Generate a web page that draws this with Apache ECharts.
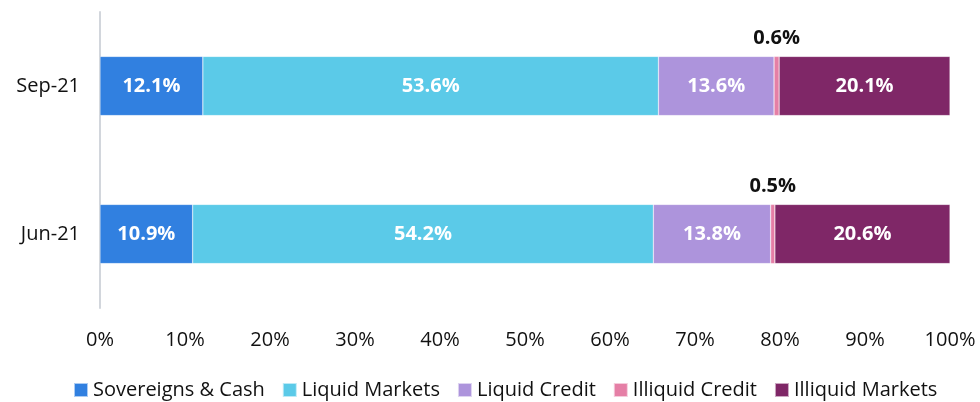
<!DOCTYPE html>
<html>
<head>
<meta charset="utf-8">
<script src="https://cdn.jsdelivr.net/npm/echarts@6/dist/echarts.min.js"></script>
<style>
  html, body { margin: 0; padding: 0; background: #fff; }
  #chart { width: 980px; height: 402px; }
</style>
</head>
<body>
<div id="chart"></div>
<script>
// bottom to top
var periods = ['Jun-21', 'Sep-21'];
var sovereignsCash = [10.9, 12.1];
var liquidMarkets = [54.2, 53.6];
var liquidCredit = [13.8, 13.6];
var illiquidCredit = [0.5, 0.6];
var illiquidMarkets = [20.6, 20.1];

var font = '"Open Sans", "Noto Sans", sans-serif';
var fs = 20;

var inside = {
  show: true,
  position: 'inside',
  color: '#fff',
  fontFamily: font,
  fontWeight: 'bold',
  fontSize: fs,
  formatter: p => p.value.toFixed(1) + '%'
};

var mk = (name, data, color, label) => ({
  name: name,
  type: 'bar',
  stack: 'total',
  barWidth: '40%',
  data: data,
  itemStyle: { color: color, borderColor: 'rgba(255,255,255,0.6)', borderWidth: 0.5 },
  label: label || inside
});

var chart = echarts.init(document.getElementById('chart'));
var option = {
  animation: false,
  textStyle: { fontFamily: font },
  grid: { left: 100, right: 30, top: 12, bottom: 94 },
  legend: {
    top: 375,
    left: 68,
    padding: 5,
    itemWidth: 14,
    itemHeight: 14,
    itemGap: 17,
    icon: 'rect',
    textStyle: { fontSize: fs, color: '#111', fontFamily: font },
    data: ['Sovereigns & Cash', 'Liquid Markets', 'Liquid Credit', 'Illiquid Credit', 'Illiquid Markets']
  },
  xAxis: {
    type: 'value',
    min: 0,
    max: 100,
    interval: 10,
    axisLine: { show: false },
    axisTick: { show: false },
    splitLine: { show: false },
    axisLabel: { fontSize: fs, color: '#111', margin: 22, formatter: '{value}%' }
  },
  yAxis: {
    type: 'category',
    data: periods,
    axisLine: { show: true, lineStyle: { color: '#d2d6dc', width: 2 } },
    axisTick: { show: false },
    axisLabel: { fontSize: fs, color: '#111', margin: 20 }
  },
  series: [
    mk('Sovereigns & Cash', sovereignsCash, '#3180e0'),
    mk('Liquid Markets', liquidMarkets, '#5bcae8'),
    mk('Liquid Credit', liquidCredit, '#ad94dc'),
    mk('Illiquid Credit', illiquidCredit, '#e57fa6', {
      show: true,
      position: 'top',
      distance: 8,
      color: '#111',
      fontFamily: font,
      fontWeight: 'bold',
      fontSize: fs,
      formatter: p => p.value.toFixed(1) + '%'
    }),
    mk('Illiquid Markets', illiquidMarkets, '#7f2767')
  ]
};
chart.setOption(option);
</script>
</body>
</html>
